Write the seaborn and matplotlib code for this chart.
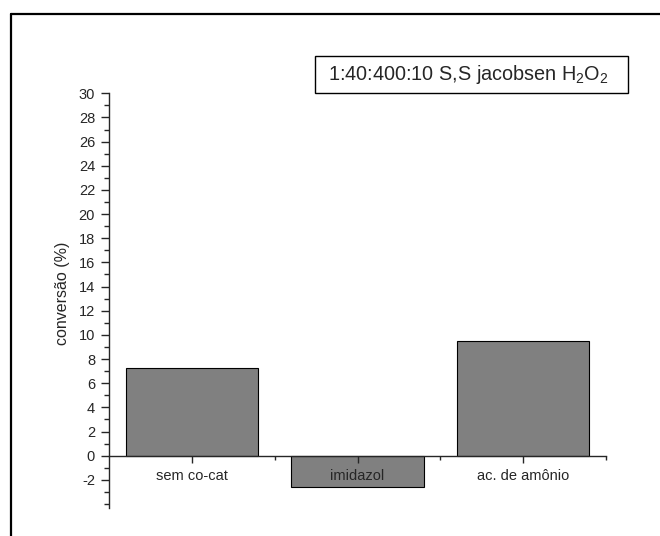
import numpy as np
import pandas as pd
import matplotlib
matplotlib.use('Agg')
import matplotlib.pyplot as plt
import seaborn as sns
from matplotlib.lines import Line2D
from matplotlib.patches import Rectangle
from matplotlib.ticker import MultipleLocator, FixedLocator

# data
categories = ['sem co-cat', 'imidazol', 'ac. de amônio']
conversion = [7.3, -2.6, 9.5]
y_label = 'conversão (%)'
box_label = r'1:40:400:10 S,S jacobsen H$\mathregular{_2}$O$\mathregular{_2}$'


def main():
    sns.set_style('ticks')
    plt.rcParams['font.family'] = ['Liberation Sans', 'DejaVu Sans']
    plt.rcParams['mathtext.fontset'] = 'custom'
    plt.rcParams['mathtext.rm'] = 'Liberation Sans'
    plt.rcParams['axes.unicode_minus'] = False

    df = pd.DataFrame({'cat': categories, 'conv': conversion})

    W, H = 660, 536
    fig = plt.figure(figsize=(6.6, 5.36), dpi=100)
    ax = fig.add_axes([109 / W, 1 - 508 / H, (606 - 109) / W, (508 - 93.3) / H])

    sns.barplot(data=df, x='cat', y='conv', color='#808080', saturation=1,
                edgecolor='black', linewidth=0.8, width=0.8, ax=ax)

    ax.set_xlim(-0.5, 2.5)
    ax.set_ylim(-4.33, 30)
    ax.set_axisbelow(False)

    # axes look: left spine plus a zero line
    for s in ['top', 'right']:
        ax.spines[s].set_visible(False)
    ax.spines['bottom'].set_position(('data', 0))
    ax.spines['left'].set_linewidth(1.0)
    ax.spines['bottom'].set_linewidth(1.0)
    ax.set_facecolor('none')

    ax.yaxis.set_major_locator(FixedLocator(np.arange(-2, 31, 2)))
    ax.yaxis.set_minor_locator(MultipleLocator(1))
    ax.xaxis.set_minor_locator(FixedLocator([0.5, 1.5, 2.5]))
    ax.tick_params(axis='y', which='major', direction='out', length=6, width=1, labelsize=10.5, pad=4)
    ax.tick_params(axis='y', which='minor', direction='out', length=3.5, width=1)
    ax.tick_params(axis='x', which='major', direction='out', length=5.3, width=1, labelsize=10.5, pad=4)
    ax.tick_params(axis='x', which='minor', direction='out', length=2.7, width=1)

    ax.set_xlabel('')
    ax.set_ylabel(y_label, fontsize=11.5)
    ax.yaxis.set_label_coords(-0.078, 0.517)

    # boxed annotation
    fig.add_artist(Rectangle((315 / W, 1 - 92.7 / H), (628 - 315) / W, (92.7 - 56) / H,
                             transform=fig.transFigure, fill=False, edgecolor='black', lw=1.0))
    fig.text(468 / W, 1 - 75 / H, box_label, ha='center', va='center', fontsize=14.3)

    # frame around the figure (only left and top visible)
    fig.add_artist(Line2D([11 / W, 11 / W], [0, 1 - 13.5 / H], transform=fig.transFigure,
                          color='black', lw=1.6))
    fig.add_artist(Line2D([11 / W, 1], [1 - 13.5 / H, 1 - 13.5 / H], transform=fig.transFigure,
                          color='black', lw=1.6))

    fig.savefig('out.png', dpi=100)


if __name__ == '__main__':
    main()
